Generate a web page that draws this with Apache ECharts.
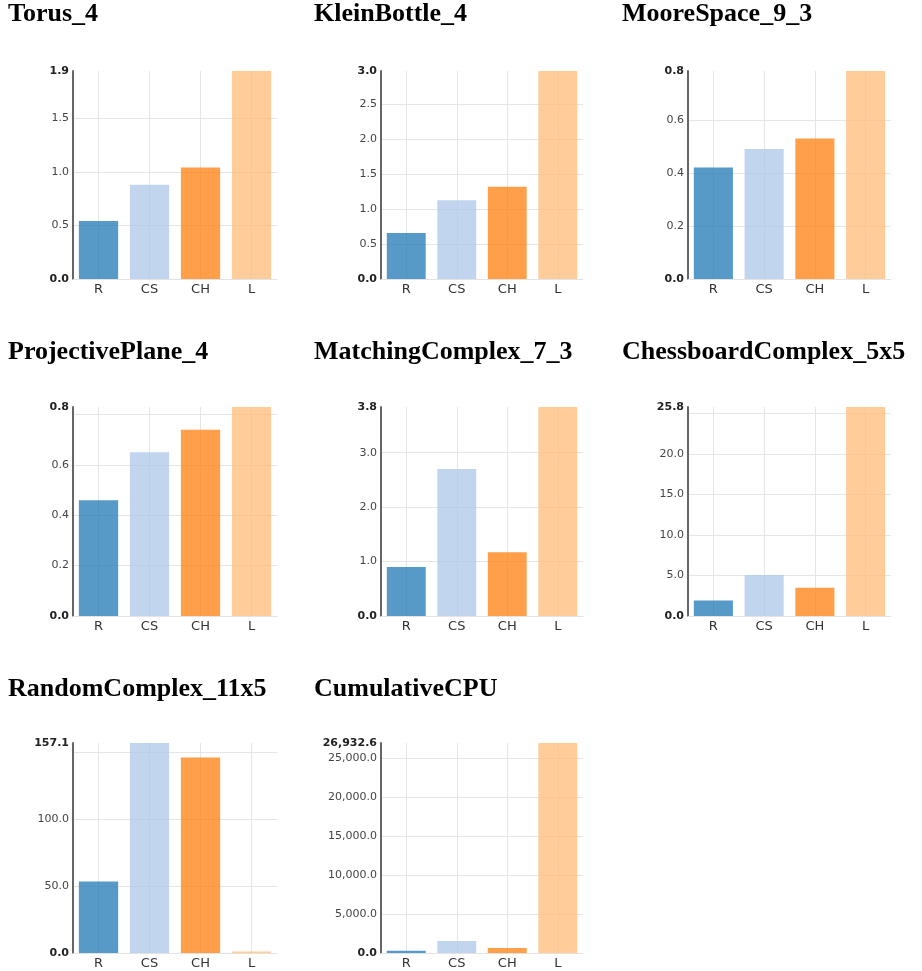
<!DOCTYPE html>
<html>
<head>
<meta charset="utf-8">
<script src="https://cdn.jsdelivr.net/npm/echarts@6/dist/echarts.min.js"></script>
<style>
html,body{margin:0;padding:0;background:#fff;}
#chart{width:922px;height:971px;}
</style>
</head>
<body>
<div id="chart"></div>
<script>
const categories = ['R', 'CS', 'CH', 'L'];
const panelTitles = ['Torus_4', 'KleinBottle_4', 'MooreSpace_9_3', 'ProjectivePlane_4',
  'MatchingComplex_7_3', 'ChessboardComplex_5x5', 'RandomComplex_11x5', 'CumulativeCPU'];
const torus4 = [0.54, 0.88, 1.04, 1.94];
const kleinBottle4 = [0.66, 1.13, 1.32, 2.98];
const mooreSpace93 = [0.42, 0.49, 0.53, 0.784];
const projectivePlane4 = [0.46, 0.65, 0.74, 0.83];
const matchingComplex73 = [0.9, 2.70, 1.17, 3.84];
const chessboardComplex5x5 = [1.9, 5.05, 3.5, 25.8];
const randomComplex11x5 = [53.4, 157.1, 146.2, 1.2];
const cumulativeCPU = [280, 1550, 650, 26932.6];
const yTickSteps = [0.5, 0.5, 0.2, 0.2, 1, 5, 50, 5000];

const panelValues = [torus4, kleinBottle4, mooreSpace93, projectivePlane4,
  matchingComplex73, chessboardComplex5x5, randomComplex11x5, cumulativeCPU];
const barColors = ['#1f77b4', '#aec7e8', '#ff7f0e', '#ffbb78'];

const colLeft = [73, 381, 688];
const colWidth = [204, 202, 203];
const colTitleX = [8, 314, 622];
const rowTop = [71, 407, 743];
const rowHeight = [208, 209, 210];
const rowTitleY = [1, 339, 676];

function fmt(v) {
  return v.toLocaleString('en-US', {minimumFractionDigits: 1, maximumFractionDigits: 1});
}

const titles = [], grids = [], xAxes = [], yAxes = [], series = [];
panelValues.forEach((vals, k) => {
  const row = Math.floor(k / 3), col = k % 3;
  const max = Math.max(...vals);
  const h = rowHeight[row];
  titles.push({
    text: panelTitles[k], left: colTitleX[col], top: rowTitleY[row], padding: 0,
    textStyle: {fontFamily: 'Liberation Serif', fontWeight: 'bold', fontSize: 26, color: '#000'}
  });
  grids.push({left: colLeft[col], top: rowTop[row], width: colWidth[col], height: h, containLabel: false});
  xAxes.push({
    type: 'category', gridIndex: k, data: categories,
    axisLine: {show: true, lineStyle: {color: '#e3e3e3', width: 1}},
    axisTick: {show: false},
    axisLabel: {margin: 4, fontFamily: 'DejaVu Sans', fontSize: 13, color: '#333'},
    splitLine: {show: true, alignWithLabel: true, lineStyle: {color: '#e6e6e6', width: 1}}
  });
  yAxes.push({
    type: 'value', gridIndex: k, min: 0, max: max, interval: yTickSteps[k],
    axisLine: {show: true, lineStyle: {color: '#666', width: 2}},
    axisTick: {show: false},
    splitLine: {show: true, showMaxLine: false, showMinLine: false, lineStyle: {color: '#e6e6e6', width: 1}},
    axisLabel: {
      margin: 4, fontFamily: 'DejaVu Sans', fontSize: 11, color: '#444',
      showMinLabel: true, showMaxLabel: true,
      formatter: function (v) {
        const s = fmt(v);
        if (v === 0 || Math.abs(v - max) < 1e-9) return '{b|' + s + '}';
        if ((max - v) / max * h < 12) return '';
        return s;
      },
      rich: {b: {fontFamily: 'DejaVu Sans', fontSize: 11, fontWeight: 'bold', color: '#222'}}
    }
  });
  series.push({
    type: 'bar', xAxisIndex: k, yAxisIndex: k, barCategoryGap: '23%',
    data: vals.map((v, i) => ({value: v, itemStyle: {color: barColors[i], opacity: 0.75}})),
    animation: false
  });
});

const chart = echarts.init(document.getElementById('chart'), null, {renderer: 'canvas'});
chart.setOption({
  animation: false,
  backgroundColor: '#fff',
  title: titles, grid: grids, xAxis: xAxes, yAxis: yAxes, series: series
});
</script>
</body>
</html>
